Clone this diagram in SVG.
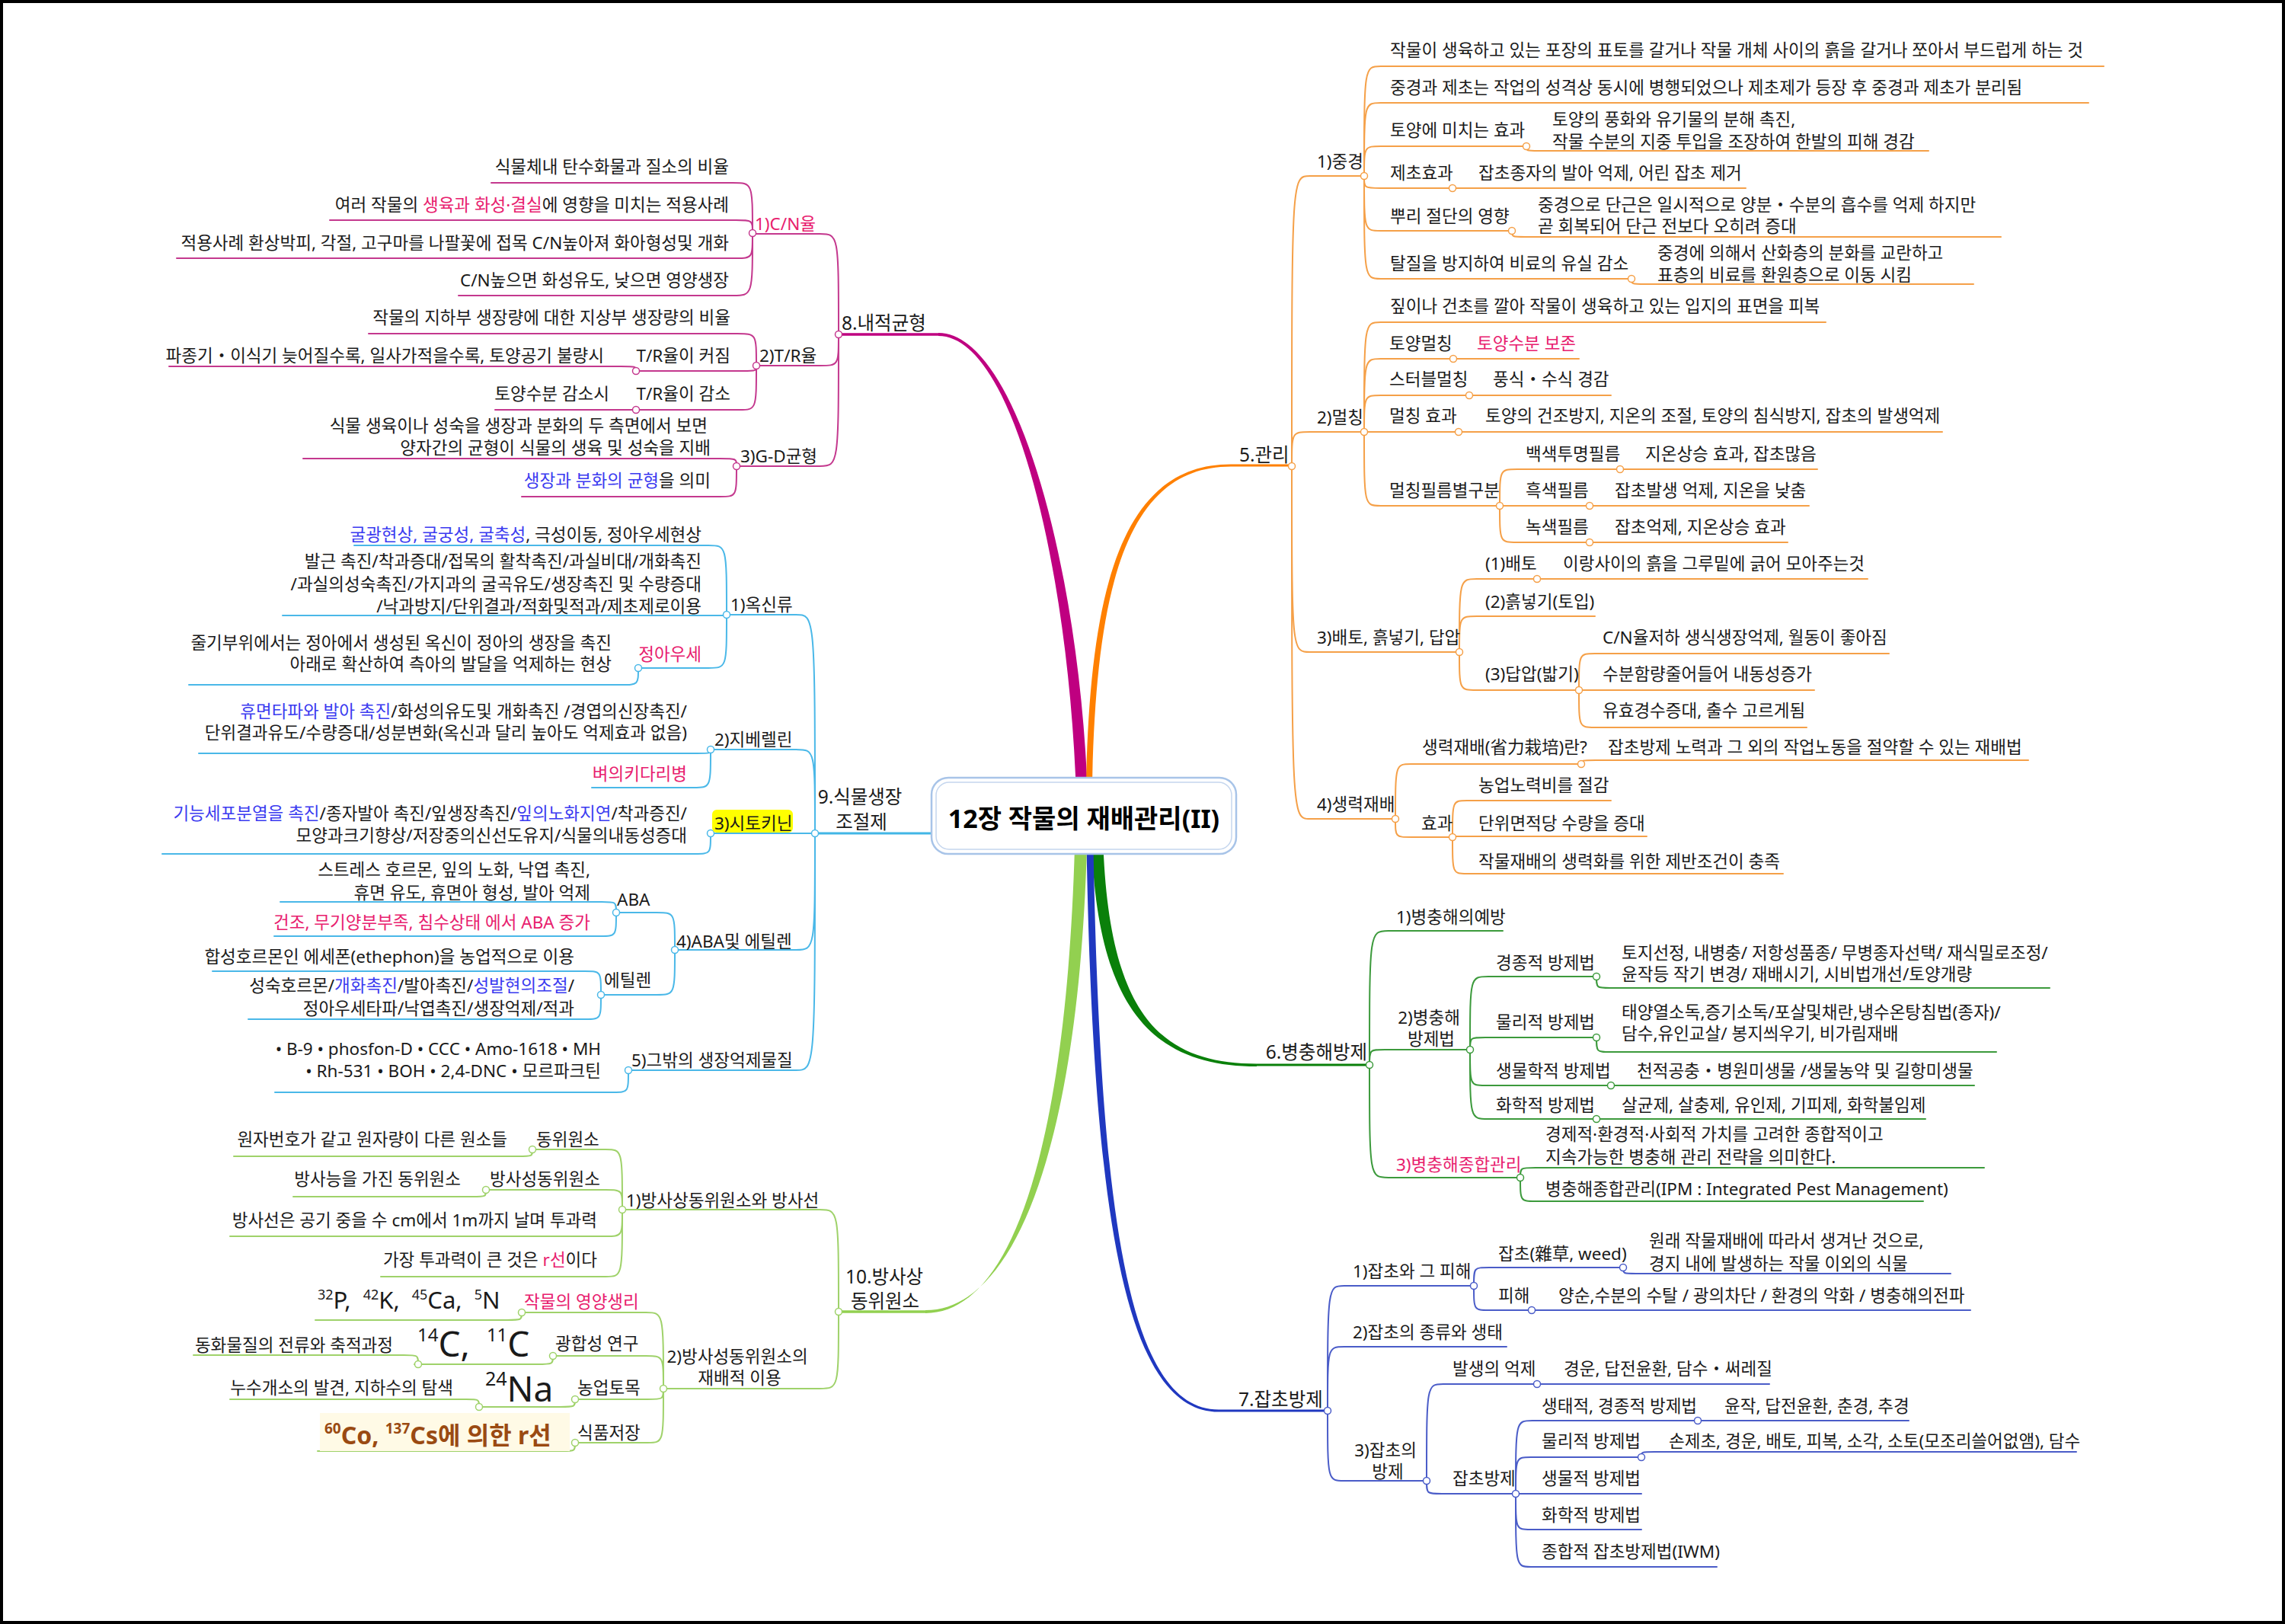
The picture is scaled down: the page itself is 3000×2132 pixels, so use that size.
<svg xmlns="http://www.w3.org/2000/svg" width="3000" height="2132" viewBox="0 0 3000 2132">
<style>
.t{font-family:"Noto Sans","Noto Sans CJK KR",sans-serif;font-size:22.5px;fill:#1a1a1a}
.m{font-size:24.5px}
.e{text-anchor:end}
.c{text-anchor:middle}
.p{fill:#e8206e}
.b{fill:#3b3bf0}
.l{fill:none;stroke-width:2;stroke-linecap:round}
.k8{stroke:#c4388e}
.k9{stroke:#4ab8e8}
.k10{stroke:#9fd26a}
.k5{stroke:#f5a048}
.k6{stroke:#3c9a3c}
.k7{stroke:#4a5cc8}
.d{fill:#fff;stroke-width:1.5}
</style>
<rect x="0" y="0" width="3000" height="2132" fill="#fff"/>
<rect x="2" y="2" width="2996" height="2128" fill="none" stroke="#000" stroke-width="4"/>
<g id="connectors">
<path d="M1412.5 1030 C1401 740 1330 441 1232 441 L1232 437 C1334 437 1415 740 1427.5 1030 Z" fill="#bf0080"/>
<path d="M1232 439 H1101" fill="none" stroke="#bf0080" stroke-width="3.5"/>
<path d="M1426 1030 C1431 760 1478 609.5 1616 609.5 L1616 612.5 C1483 612.5 1439 760 1434 1030 Z" fill="#ff8000"/>
<path d="M1616 611 H1696" fill="none" stroke="#ff8000" stroke-width="3"/>
<path d="M1070 1094 H1225" fill="none" stroke="#41b6e6" stroke-width="3"/>
<path d="M1433.5 1112 C1442.5 1330 1518 1400 1650 1400 L1650 1396.5 C1522 1396.5 1457.5 1330 1448.5 1112 Z" fill="#0a800a"/>
<path d="M1650 1398 H1798" fill="none" stroke="#0a800a" stroke-width="3"/>
<path d="M1426.5 1112 C1435.5 1600 1478 1853.5 1600 1853.5 L1600 1850.5 C1482 1850.5 1444.5 1600 1435.5 1112 Z" fill="#2038c0"/>
<path d="M1600 1852 H1743" fill="none" stroke="#2038c0" stroke-width="3"/>
<path d="M1411 1112 C1400 1500 1330 1724 1215 1724 L1215 1720 C1334 1720 1416 1500 1427 1112 Z" fill="#92d050"/>
<path d="M1215 1722 H1101" fill="none" stroke="#92d050" stroke-width="3.5"/>

<g class="l k8">
<path d="M988 307 H1076 C1101 307 1101 307 1101 439"/>
<path d="M993 480 H1076 C1101 480 1101 480 1101 439"/>
<path d="M967 612 H1076 C1101 612 1101 612 1101 439"/>
<path d="M645 240 H962 C988 240 988 240 988 306"/>
<path d="M433 289 H966 C988 289 988 289 988 306"/>
<path d="M232 339 H966 C988 339 988 339 988 306"/>
<path d="M602 388 H962 C988 388 988 388 988 306"/>
<path d="M484 438 H968 C993 438 993 438 993 480"/>
<path d="M835 487 H975 C993 487 993 487 993 480"/>
<path d="M222 481 H815 C835 481 835 481 835 487"/>
<path d="M835 538 H970 C993 538 993 538 993 480"/>
<path d="M650 538 H835"/>
<path d="M398 602 H945 C967 602 967 602 967 612"/>
<path d="M685 652 H945 C967 652 967 652 967 612"/>
</g>
<g class="l k9">
<path d="M954 807 H1045 C1070 807 1070 807 1070 1094"/>
<path d="M933 984 H1045 C1070 984 1070 984 1070 1094"/>
<path d="M933 1094 H1070"/>
<path d="M886 1247 H1045 C1070 1247 1070 1247 1070 1094"/>
<path d="M825 1405 H1045 C1070 1405 1070 1405 1070 1094"/>
<path d="M465 716 H930 C954 716 954 716 954 807"/>
<path d="M371 808 H954"/>
<path d="M838 877 H930 C954 877 954 877 954 807"/>
<path d="M248 899 H815 C838 899 838 899 838 877"/>
<path d="M261 989 H915 C933 989 933 989 933 984"/>
<path d="M777 1034 H910 C933 1034 933 1034 933 984"/>
<path d="M213 1121 H912 C933 1121 933 1121 933 1094"/>
<path d="M809 1198 H862 C886 1198 886 1198 886 1247"/>
<path d="M789 1306 H862 C886 1306 886 1306 886 1247"/>
<path d="M368 1184 H790 C809 1184 809 1184 809 1198"/>
<path d="M360 1229 H788 C809 1229 809 1229 809 1198"/>
<path d="M279 1275 H768 C789 1275 789 1275 789 1306"/>
<path d="M326 1338 H768 C789 1338 789 1338 789 1306"/>
<path d="M361 1434 H805 C825 1434 825 1434 825 1405"/>
</g>
<g class="l k10">
<path d="M817 1588 H1076 C1101 1588 1101 1588 1101 1722"/>
<path d="M871 1823 H1076 C1101 1823 1101 1823 1101 1722"/>
<path d="M699 1509 H795 C817 1509 817 1509 817 1588"/>
<path d="M307 1518 H680 C699 1518 699 1518 699 1509"/>
<path d="M638 1562 H795 C817 1562 817 1562 817 1588"/>
<path d="M385 1571 H620 C638 1571 638 1571 638 1562"/>
<path d="M302 1623 H795 C817 1623 817 1623 817 1588"/>
<path d="M500 1676 H795 C817 1676 817 1676 817 1588"/>
<path d="M685 1723 H848 C871 1723 871 1723 871 1823"/>
<path d="M414 1733 H665 C685 1733 685 1733 685 1723"/>
<path d="M726 1780 H848 C871 1780 871 1780 871 1823"/>
<path d="M544 1791 H705 C726 1791 726 1791 726 1780"/>
<path d="M254 1779 H530 C549 1779 549 1779 549 1791"/>
<path d="M755 1837 H850 C871 1837 871 1837 871 1823"/>
<path d="M634 1847 H735 C755 1847 755 1847 755 1837"/>
<path d="M302 1837 H612 C629 1837 629 1837 629 1847"/>
<path d="M755 1894 H850 C871 1894 871 1894 871 1823"/>
<path d="M417 1905 H738 C755 1905 755 1905 755 1894"/>
</g>
<g class="l k5">
<path d="M1791 231 H1720 C1696 231 1696 231 1696 612"/>
<path d="M1791 567 H1720 C1696 567 1696 567 1696 612"/>
<path d="M1916 856 H1720 C1696 856 1696 856 1696 612"/>
<path d="M1832 1075 H1720 C1696 1075 1696 1075 1696 612"/>
<path d="M2762 87 H1813 C1791 87 1791 87 1791 231"/>
<path d="M2742 135 H1813 C1791 135 1791 135 1791 231"/>
<path d="M2004 192 H1813 C1791 192 1791 192 1791 231"/>
<path d="M2532 198 H2020 C2004 198 2004 198 2004 192"/>
<path d="M1907 247 H1813 C1791 247 1791 247 1791 231"/>
<path d="M2292 247 H1907"/>
<path d="M1985 303 H1813 C1791 303 1791 303 1791 231"/>
<path d="M2627 311 H2003 C1985 311 1985 311 1985 303"/>
<path d="M2142 366 H1813 C1791 366 1791 366 1791 231"/>
<path d="M2591 373 H2160 C2142 373 2142 373 2142 366"/>
<path d="M2397 423 H1813 C1791 423 1791 423 1791 567"/>
<path d="M1908 471 H1813 C1791 471 1791 471 1791 567"/>
<path d="M2073 471 H1908"/>
<path d="M1929 519 H1813 C1791 519 1791 519 1791 567"/>
<path d="M2115 519 H1929"/>
<path d="M1915 567 H1791"/>
<path d="M2550 567 H1915"/>
<path d="M1969 664 H1813 C1791 664 1791 664 1791 567"/>
<path d="M2127 616 H1992 C1969 616 1969 616 1969 664"/>
<path d="M2386 616 H2127"/>
<path d="M2087 664 H1969"/>
<path d="M2375 664 H2087"/>
<path d="M2087 712 H1992 C1969 712 1969 712 1969 664"/>
<path d="M2347 712 H2087"/>
<path d="M2018 760 H1939 C1916 760 1916 760 1916 856"/>
<path d="M2452 760 H2018"/>
<path d="M2094 809 H1939 C1916 809 1916 809 1916 856"/>
<path d="M2073 906 H1939 C1916 906 1916 906 1916 856"/>
<path d="M2480 858 H2094 C2073 858 2073 858 2073 906"/>
<path d="M2382 906 H2073"/>
<path d="M2372 955 H2094 C2073 955 2073 955 2073 906"/>
<path d="M2076 1003 H1853 C1832 1003 1832 1003 1832 1075"/>
<path d="M2663 998 H2095 C2076 998 2076 998 2076 1003"/>
<path d="M1907 1099 H1853 C1832 1099 1832 1099 1832 1075"/>
<path d="M2115 1051 H1926 C1907 1051 1907 1051 1907 1099"/>
<path d="M2162 1098 H1907"/>
<path d="M2341 1147 H1926 C1907 1147 1907 1147 1907 1099"/>
</g>
<g class="l k6">
<path d="M1973 1222 H1823 C1798 1222 1798 1222 1798 1398"/>
<path d="M1930 1378 H1818 C1798 1378 1798 1378 1798 1398"/>
<path d="M1996 1546 H1823 C1798 1546 1798 1546 1798 1398"/>
<path d="M2096 1282 H1954 C1930 1282 1930 1282 1930 1378"/>
<path d="M2691 1297 H2114 C2096 1297 2096 1297 2096 1282"/>
<path d="M2096 1362 H1950 C1930 1362 1930 1362 1930 1378"/>
<path d="M2621 1381 H2114 C2096 1381 2096 1381 2096 1362"/>
<path d="M2115 1425 H1950 C1930 1425 1930 1425 1930 1378"/>
<path d="M2592 1425 H2115"/>
<path d="M2096 1469 H1954 C1930 1469 1930 1469 1930 1378"/>
<path d="M2528 1469 H2096"/>
<path d="M2605 1533 H2016 C1996 1533 1996 1533 1996 1546"/>
<path d="M2525 1577 H2016 C1996 1577 1996 1577 1996 1546"/>
</g>
<g class="l k7">
<path d="M1935 1688 H1765 C1743 1688 1743 1688 1743 1852"/>
<path d="M1978 1768 H1765 C1743 1768 1743 1768 1743 1852"/>
<path d="M1873 1944 H1765 C1743 1944 1743 1944 1743 1852"/>
<path d="M2131 1664 H1955 C1935 1664 1935 1664 1935 1688"/>
<path d="M2561 1672 H2148 C2131 1672 2131 1672 2131 1664"/>
<path d="M2011 1720 H1955 C1935 1720 1935 1720 1935 1688"/>
<path d="M2587 1720 H2011"/>
<path d="M2018 1817 H1895 C1873 1817 1873 1817 1873 1944"/>
<path d="M2323 1817 H2018"/>
<path d="M1990 1961 H1893 C1873 1961 1873 1961 1873 1944"/>
<path d="M2229 1865 H2012 C1990 1865 1990 1865 1990 1961"/>
<path d="M2506 1865 H2229"/>
<path d="M2155 1913 H2010 C1990 1913 1990 1913 1990 1961"/>
<path d="M2726 1906 H2172 C2155 1906 2155 1906 2155 1913"/>
<path d="M2155 1961 H1990"/>
<path d="M2155 2008 H2010 C1990 2008 1990 2008 1990 1961"/>
<path d="M2254 2057 H2010 C1990 2057 1990 2057 1990 1961"/>
</g>
<g class="d k8">
<circle cx="1101" cy="439" r="4.5"/><circle cx="988" cy="306" r="4.5"/><circle cx="993" cy="480" r="4.5"/><circle cx="967" cy="612" r="4.5"/><circle cx="835" cy="487" r="4.5"/><circle cx="835" cy="538" r="4.5"/>
</g>
<g class="d k9">
<circle cx="1070" cy="1094" r="4.5"/><circle cx="954" cy="807" r="4.5"/><circle cx="838" cy="877" r="4.5"/><circle cx="933" cy="984" r="4.5"/><circle cx="933" cy="1094" r="4.5"/><circle cx="886" cy="1247" r="4.5"/><circle cx="809" cy="1198" r="4.5"/><circle cx="789" cy="1306" r="4.5"/><circle cx="825" cy="1405" r="4.5"/>
</g>
<g class="d k10">
<circle cx="1101" cy="1722" r="4.5"/><circle cx="817" cy="1588" r="4.5"/><circle cx="699" cy="1509" r="4.5"/><circle cx="638" cy="1562" r="4.5"/><circle cx="871" cy="1823" r="4.5"/><circle cx="685" cy="1723" r="4.5"/><circle cx="726" cy="1780" r="4.5"/><circle cx="549" cy="1791" r="4.5"/><circle cx="755" cy="1837" r="4.5"/><circle cx="629" cy="1847" r="4.5"/><circle cx="755" cy="1894" r="4.5"/>
</g>
<g class="d k5">
<circle cx="1696" cy="612" r="4.5"/><circle cx="1791" cy="231" r="4.5"/><circle cx="2004" cy="192" r="4.5"/><circle cx="1907" cy="247" r="4.5"/><circle cx="1985" cy="303" r="4.5"/><circle cx="2142" cy="366" r="4.5"/><circle cx="1791" cy="567" r="4.5"/><circle cx="1908" cy="471" r="4.5"/><circle cx="1929" cy="519" r="4.5"/><circle cx="1915" cy="567" r="4.5"/><circle cx="1969" cy="664" r="4.5"/><circle cx="2127" cy="616" r="4.5"/><circle cx="2087" cy="664" r="4.5"/><circle cx="2087" cy="712" r="4.5"/><circle cx="1916" cy="856" r="4.5"/><circle cx="2018" cy="760" r="4.5"/><circle cx="2073" cy="906" r="4.5"/><circle cx="1832" cy="1075" r="4.5"/><circle cx="2076" cy="1003" r="4.5"/><circle cx="1907" cy="1099" r="4.5"/>
</g>
<g class="d k6">
<circle cx="1798" cy="1398" r="4.5"/><circle cx="1930" cy="1378" r="4.5"/><circle cx="2096" cy="1282" r="4.5"/><circle cx="2096" cy="1362" r="4.5"/><circle cx="2115" cy="1425" r="4.5"/><circle cx="2096" cy="1469" r="4.5"/><circle cx="1996" cy="1546" r="4.5"/>
</g>
<g class="d k7">
<circle cx="1743" cy="1852" r="4.5"/><circle cx="1935" cy="1688" r="4.5"/><circle cx="2131" cy="1664" r="4.5"/><circle cx="2011" cy="1720" r="4.5"/><circle cx="1873" cy="1944" r="4.5"/><circle cx="2018" cy="1817" r="4.5"/><circle cx="1990" cy="1961" r="4.5"/><circle cx="2229" cy="1865" r="4.5"/><circle cx="2155" cy="1913" r="4.5"/>
</g>
</g>

<g id="root">
<rect x="1223" y="1021" width="400" height="100" rx="22" fill="#fff" stroke="#a8c4e8" stroke-width="2.5"/>
<rect x="1229" y="1027" width="388" height="88" rx="17" fill="none" stroke="#c5d6ee" stroke-width="1.5"/>
<text class="t c" x="1423" y="1087" style="font-size:34px;font-weight:bold;fill:#000">12장 작물의 재배관리(II)</text>
</g>

<g id="n8"><text class="t m" x="1105" y="433">8.내적균형</text></g>
<g id="n8-1"><text class="t p" x="991" y="302">1)C/N율</text></g>
<g id="n8-1a"><text class="t e" x="957" y="227">식물체내 탄수화물과 질소의 비율</text></g>
<g id="n8-1b"><text class="t e" x="957" y="277">여러 작물의 <tspan class="p">생육과 화성·결실</tspan>에 영향을 미치는 적용사례</text></g>
<g id="n8-1c"><text class="t e" x="957" y="327">적용사례 환상박피, 각절, 고구마를 나팔꽃에 접목 C/N높아져 화아형성및 개화</text></g>
<g id="n8-1d"><text class="t e" x="957" y="376">C/N높으면 화성유도, 낮으면 영양생장</text></g>
<g id="n8-2"><text class="t" x="997" y="475">2)T/R율</text></g>
<g id="n8-2a"><text class="t e" x="959" y="425">작물의 지하부 생장량에 대한 지상부 생장량의 비율</text></g>
<g id="n8-2b"><text class="t e" x="959" y="475">T/R율이 커짐</text></g>
<g id="n8-2b1"><text class="t e" x="793" y="475">파종기・이식기 늦어질수록, 일사가적을수록, 토양공기 불량시</text></g>
<g id="n8-2c"><text class="t e" x="959" y="525">T/R율이 감소</text></g>
<g id="n8-2c1"><text class="t e" x="800" y="525">토양수분 감소시</text></g>
<g id="n8-3"><text class="t" x="972" y="607">3)G-D균형</text></g>
<g id="n8-3a"><text class="t e"><tspan x="929" y="567">식물 생육이나 성숙을 생장과 분화의 두 측면에서 보면</tspan><tspan x="933" y="596">양자간의 균형이 식물의 생육 및 성숙을 지배</tspan></text></g>
<g id="n8-3b"><text class="t e" x="933" y="639"><tspan class="b">생장과 분화의 균형</tspan>을 의미</text></g>

<g id="n9"><text class="t m c"><tspan x="1129" y="1055">9.식물생장</tspan><tspan x="1131" y="1088">조절제</tspan></text></g>
<g id="n9-1"><text class="t" x="959" y="802">1)옥신류</text></g>
<g id="n9-1a"><text class="t e" x="921" y="710"><tspan class="b">굴광현상, 굴궁성, 굴축성</tspan>, 극성이동, 정아우세현상</text></g>
<g id="n9-1b"><text class="t e"><tspan x="921" y="745">발근 촉진/착과증대/접목의 활착촉진/과실비대/개화촉진</tspan><tspan x="921" y="775">/과실의성숙촉진/가지과의 굴곡유도/생장촉진 및 수량증대</tspan><tspan x="921" y="804">/낙과방지/단위결과/적화및적과/제초제로이용</tspan></text></g>
<g id="n9-1c"><text class="t e p" x="921" y="867">정아우세</text></g>
<g id="n9-1c1"><text class="t e"><tspan x="803" y="852">줄기부위에서는 정아에서 생성된 옥신이 정아의 생장을 촉진</tspan><tspan x="803" y="880">아래로 확산하여 측아의 발달을 억제하는 현상</tspan></text></g>
<g id="n9-2"><text class="t" x="938" y="979">2)지베렐린</text></g>
<g id="n9-2a"><text class="t e"><tspan x="902" y="942"><tspan class="b">휴면타파와 발아 촉진</tspan>/화성의유도및 개화촉진 /경엽의신장촉진/</tspan><tspan x="902" y="970">단위결과유도/수량증대/성분변화(옥신과 달리 높아도 억제효과 없음)</tspan></text></g>
<g id="n9-2b"><text class="t e p" x="902" y="1024">벼의키다리병</text></g>
<g id="n9-3"><rect x="935" y="1063" width="106" height="30" rx="6" fill="#ffff00"/><text class="t" x="938" y="1089">3)시토키닌</text></g>
<g id="n9-3a"><text class="t e"><tspan x="902" y="1076"><tspan class="b">기능세포분열을 촉진</tspan>/종자발아 촉진/잎생장촉진/<tspan class="b">잎의노화지연</tspan>/착과증진/</tspan><tspan x="902" y="1105">모양과크기향상/저장중의신선도유지/식물의내동성증대</tspan></text></g>
<g id="n9-4"><text class="t" x="888" y="1244">4)ABA및 에틸렌</text></g>
<g id="n9-4a"><text class="t" x="810" y="1189">ABA</text></g>
<g id="n9-4a1"><text class="t e"><tspan x="775" y="1150">스트레스 호르몬, 잎의 노화, 낙엽 촉진,</tspan><tspan x="775" y="1180">휴면 유도, 휴면아 형성, 발아 억제</tspan></text></g>
<g id="n9-4a2"><text class="t e p" x="775" y="1219">건조, 무기양분부족, 침수상태 에서 ABA 증가</text></g>
<g id="n9-4b"><text class="t" x="793" y="1295">에틸렌</text></g>
<g id="n9-4b1"><text class="t e" x="754" y="1264">합성호르몬인 에세폰(ethephon)을 농업적으로 이용</text></g>
<g id="n9-4b2"><text class="t e"><tspan x="754" y="1302">성숙호르몬/<tspan class="b">개화촉진</tspan>/발아촉진/<tspan class="b">성발현의조절</tspan>/</tspan><tspan x="754" y="1332">정아우세타파/낙엽촉진/생장억제/적과</tspan></text></g>
<g id="n9-5"><text class="t" x="829" y="1400">5)그밖의 생장억제물질</text></g>
<g id="n9-5a"><text class="t e"><tspan x="789" y="1385">• B-9 • phosfon-D • CCC • Amo-1618 • MH</tspan><tspan x="789" y="1414">• Rh-531 • BOH • 2,4-DNC • 모르파크틴</tspan></text></g>

<g id="n10"><text class="t m c"><tspan x="1161" y="1685">10.방사상</tspan><tspan x="1162" y="1717">동위원소</tspan></text></g>
<g id="n10-1"><text class="t" x="822" y="1584">1)방사상동위원소와 방사선</text></g>
<g id="n10-1a"><text class="t" x="704" y="1504">동위원소</text></g>
<g id="n10-1a1"><text class="t e" x="666" y="1504">원자번호가 같고 원자량이 다른 원소들</text></g>
<g id="n10-1b"><text class="t" x="643" y="1556">방사성동위원소</text></g>
<g id="n10-1b1"><text class="t e" x="605" y="1556">방사능을 가진 동위원소</text></g>
<g id="n10-1c"><text class="t e" x="784" y="1610">방사선은 공기 중을 수 cm에서 1m까지 날며 투과력</text></g>
<g id="n10-1d"><text class="t e" x="784" y="1662">가장 투과력이 큰 것은 <tspan class="p">r선</tspan>이다</text></g>
<g id="n10-2"><text class="t c"><tspan x="968" y="1789">2)방사성동위원소의</tspan><tspan x="971" y="1817">재배적 이용</tspan></text></g>
<g id="n10-2a"><text class="t p" x="688" y="1717">작물의 영양생리</text></g>
<g id="n10-2a1"><text class="t" x="417" y="1718" style="font-size:31px"><tspan style="font-size:18px" dy="-12">32</tspan><tspan dy="12">P,</tspan><tspan dx="16" dy="-12" style="font-size:18px">42</tspan><tspan dy="12">K,</tspan><tspan dx="16" dy="-12" style="font-size:18px">45</tspan><tspan dy="12">Ca,</tspan><tspan dx="16" dy="-12" style="font-size:18px">5</tspan><tspan dy="12">N</tspan></text></g>
<g id="n10-2b"><text class="t" x="729" y="1772">광합성 연구</text></g>
<g id="n10-2b1"><text class="t" x="548" y="1781" style="font-size:46px"><tspan style="font-size:24px" dy="-20">14</tspan><tspan dy="20">C,</tspan><tspan dx="22" dy="-20" style="font-size:24px">11</tspan><tspan dy="20">C</tspan></text></g>
<g id="n10-2b2"><text class="t e" x="516" y="1774">동화물질의 전류와 축적과정</text></g>
<g id="n10-2c"><text class="t" x="758" y="1830">농업토목</text></g>
<g id="n10-2c1"><text class="t" x="637" y="1840" style="font-size:46px"><tspan style="font-size:25px" dy="-21">24</tspan><tspan dy="21">Na</tspan></text></g>
<g id="n10-2c2"><text class="t e" x="595" y="1830">누수개소의 발견, 지하수의 탐색</text></g>
<g id="n10-2d"><text class="t" x="758" y="1889">식품저장</text></g>
<g id="n10-2d1"><rect x="420" y="1855" width="328" height="50" fill="#fffae6"/><text class="t" x="426" y="1896" style="font-size:32px;font-weight:bold;fill:#9a4a12"><tspan style="font-size:19px" dy="-14">60</tspan><tspan dy="14">Co, </tspan><tspan style="font-size:19px" dy="-14">137</tspan><tspan dy="14">Cs에 의한 r선</tspan></text></g>

<g id="n5"><text class="t m" x="1627" y="606">5.관리</text></g>
<g id="n5-1"><text class="t" x="1729" y="220">1)중경</text></g>
<g id="n5-1a"><text class="t" x="1825" y="74">작물이 생육하고 있는 포장의 표토를 갈거나 작물 개체 사이의 흙을 갈거나 쪼아서 부드럽게 하는 것</text></g>
<g id="n5-1b"><text class="t" x="1825" y="123">중경과 제초는 작업의 성격상 동시에 병행되었으나 제초제가 등장 후 중경과 제초가 분리됨</text></g>
<g id="n5-1c"><text class="t" x="1825" y="179">토양에 미치는 효과</text></g>
<g id="n5-1c1"><text class="t"><tspan x="2038" y="165">토양의 풍화와 유기물의 분해 촉진,</tspan><tspan x="2038" y="194">작물 수분의 지중 투입을 조장하여 한발의 피해 경감</tspan></text></g>
<g id="n5-1d"><text class="t" x="1825" y="235">제초효과</text></g>
<g id="n5-1d1"><text class="t" x="1941" y="235">잡초종자의 발아 억제, 어린 잡초 제거</text></g>
<g id="n5-1e"><text class="t" x="1825" y="292">뿌리 절단의 영향</text></g>
<g id="n5-1e1"><text class="t"><tspan x="2019" y="277">중경으로 단근은 일시적으로 양분・수분의 흡수를 억제 하지만</tspan><tspan x="2019" y="305">곧 회복되어 단근 전보다 오히려 증대</tspan></text></g>
<g id="n5-1f"><text class="t" x="1825" y="354">탈질을 방지하여 비료의 유실 감소</text></g>
<g id="n5-1f1"><text class="t"><tspan x="2176" y="340">중경에 의해서 산화층의 분화를 교란하고</tspan><tspan x="2176" y="369">표층의 비료를 환원층으로 이동 시킴</tspan></text></g>
<g id="n5-2"><text class="t" x="1729" y="556">2)멀칭</text></g>
<g id="n5-2a"><text class="t" x="1825" y="410">짚이나 건초를 깔아 작물이 생육하고 있는 입지의 표면을 피복</text></g>
<g id="n5-2b"><text class="t" x="1824" y="459">토양멀칭</text></g>
<g id="n5-2b1"><text class="t p" x="1939" y="459">토양수분 보존</text></g>
<g id="n5-2c"><text class="t" x="1824" y="506">스터블멀칭</text></g>
<g id="n5-2c1"><text class="t" x="1960" y="506">풍식・수식 경감</text></g>
<g id="n5-2d"><text class="t" x="1824" y="554">멀칭 효과</text></g>
<g id="n5-2d1"><text class="t" x="1950" y="554">토양의 건조방지, 지온의 조절, 토양의 침식방지, 잡초의 발생억제</text></g>
<g id="n5-2e"><text class="t" x="1824" y="652">멀칭필름별구분</text></g>
<g id="n5-2e1"><text class="t" x="2003" y="604">백색투명필름</text></g>
<g id="n5-2e1a"><text class="t" x="2160" y="604">지온상승 효과, 잡초많음</text></g>
<g id="n5-2e2"><text class="t" x="2003" y="652">흑색필름</text></g>
<g id="n5-2e2a"><text class="t" x="2120" y="652">잡초발생 억제, 지온을 낮춤</text></g>
<g id="n5-2e3"><text class="t" x="2003" y="700">녹색필름</text></g>
<g id="n5-2e3a"><text class="t" x="2120" y="700">잡초억제, 지온상승 효과</text></g>
<g id="n5-3"><text class="t" x="1729" y="845">3)배토, 흙넣기, 답압</text></g>
<g id="n5-3a"><text class="t" x="1950" y="748">(1)배토</text></g>
<g id="n5-3a1"><text class="t" x="2052" y="748">이랑사이의 흙을 그루밑에 긁어 모아주는것</text></g>
<g id="n5-3b"><text class="t" x="1950" y="798">(2)흙넣기(토입)</text></g>
<g id="n5-3c"><text class="t" x="1950" y="893">(3)답압(밟기)</text></g>
<g id="n5-3c1"><text class="t" x="2104" y="845">C/N율저하 생식생장억제, 월동이 좋아짐</text></g>
<g id="n5-3c2"><text class="t" x="2104" y="893">수분함량줄어들어 내동성증가</text></g>
<g id="n5-3c3"><text class="t" x="2104" y="941">유효경수증대, 출수 고르게됨</text></g>
<g id="n5-4"><text class="t" x="1729" y="1064">4)생력재배</text></g>
<g id="n5-4a"><text class="t" x="1867" y="989">생력재배(省力栽培)란?</text></g>
<g id="n5-4a1"><text class="t" x="2111" y="989">잡초방제 노력과 그 외의 작업노동을 절약할 수 있는 재배법</text></g>
<g id="n5-4b"><text class="t" x="1866" y="1089">효과</text></g>
<g id="n5-4b1"><text class="t" x="1941" y="1039">농업노력비를 절감</text></g>
<g id="n5-4b2"><text class="t" x="1941" y="1089">단위면적당 수량을 증대</text></g>
<g id="n5-4b3"><text class="t" x="1941" y="1139">작물재배의 생력화를 위한 제반조건이 충족</text></g>

<g id="n6"><text class="t m e" x="1795" y="1390">6.병충해방제</text></g>
<g id="n6-1"><text class="t" x="1833" y="1212">1)병충해의예방</text></g>
<g id="n6-2"><text class="t c"><tspan x="1876" y="1344">2)병충해</tspan><tspan x="1879" y="1372">방제법</tspan></text></g>
<g id="n6-2a"><text class="t" x="1964" y="1272">경종적 방제법</text></g>
<g id="n6-2a1"><text class="t"><tspan x="2129" y="1259">토지선정, 내병충/ 저항성품종/ 무병종자선택/ 재식밀로조정/</tspan><tspan x="2129" y="1287">윤작등 작기 변경/ 재배시기, 시비법개선/토양개량</tspan></text></g>
<g id="n6-2b"><text class="t" x="1964" y="1350">물리적 방제법</text></g>
<g id="n6-2b1"><text class="t"><tspan x="2129" y="1337">태양열소독,증기소독/포살및채란,냉수온탕침법(종자)/</tspan><tspan x="2129" y="1365">담수,유인교살/ 봉지씌우기, 비가림재배</tspan></text></g>
<g id="n6-2c"><text class="t" x="1964" y="1414">생물학적 방제법</text></g>
<g id="n6-2c1"><text class="t" x="2149" y="1414">천적공충・병원미생물 /생물농약 및 길항미생물</text></g>
<g id="n6-2d"><text class="t" x="1964" y="1459">화학적 방제법</text></g>
<g id="n6-2d1"><text class="t" x="2129" y="1459">살균제, 살충제, 유인제, 기피제, 화학불임제</text></g>
<g id="n6-3"><text class="t p" x="1833" y="1537">3)병충해종합관리</text></g>
<g id="n6-3a"><text class="t"><tspan x="2029" y="1497">경제적·환경적·사회적 가치를 고려한 종합적이고</tspan><tspan x="2029" y="1527">지속가능한 병충해 관리 전략을 의미한다.</tspan></text></g>
<g id="n6-3b"><text class="t" x="2029" y="1569">병충해종합관리(IPM : Integrated Pest Management)</text></g>

<g id="n7"><text class="t m" x="1626" y="1846">7.잡초방제</text></g>
<g id="n7-1"><text class="t" x="1776" y="1677">1)잡초와 그 피해</text></g>
<g id="n7-1a"><text class="t" x="1967" y="1654">잡초(雜草, weed)</text></g>
<g id="n7-1a1"><text class="t"><tspan x="2165" y="1637">원래 작물재배에 따라서 생겨난 것으로,</tspan><tspan x="2165" y="1667">경지 내에 발생하는 작물 이외의 식물</tspan></text></g>
<g id="n7-1b"><text class="t" x="1967" y="1709">피해</text></g>
<g id="n7-1b1"><text class="t" x="2046" y="1709">양순,수분의 수탈 / 광의차단 / 환경의 악화 / 병충해의전파</text></g>
<g id="n7-2"><text class="t" x="1776" y="1757">2)잡초의 종류와 생태</text></g>
<g id="n7-3"><text class="t c"><tspan x="1819" y="1912">3)잡초의</tspan><tspan x="1822" y="1940">방제</tspan></text></g>
<g id="n7-3a"><text class="t" x="1907" y="1805">발생의 억제</text></g>
<g id="n7-3a1"><text class="t" x="2053" y="1805">경운, 답전윤환, 담수・써레질</text></g>
<g id="n7-3b"><text class="t" x="1907" y="1949">잡초방제</text></g>
<g id="n7-3b1"><text class="t" x="2024" y="1854">생태적, 경종적 방제법</text></g>
<g id="n7-3b1a"><text class="t" x="2264" y="1854">윤작, 답전윤환, 춘경, 추경</text></g>
<g id="n7-3b2"><text class="t" x="2024" y="1900">물리적 방제법</text></g>
<g id="n7-3b2a"><text class="t" x="2191" y="1900">손제초, 경운, 배토, 피복, 소각, 소토(모조리쓸어없앰), 담수</text></g>
<g id="n7-3b3"><text class="t" x="2024" y="1949">생물적 방제법</text></g>
<g id="n7-3b4"><text class="t" x="2024" y="1997">화학적 방제법</text></g>
<g id="n7-3b5"><text class="t" x="2024" y="2045">종합적 잡초방제법(IWM)</text></g>
</svg>
